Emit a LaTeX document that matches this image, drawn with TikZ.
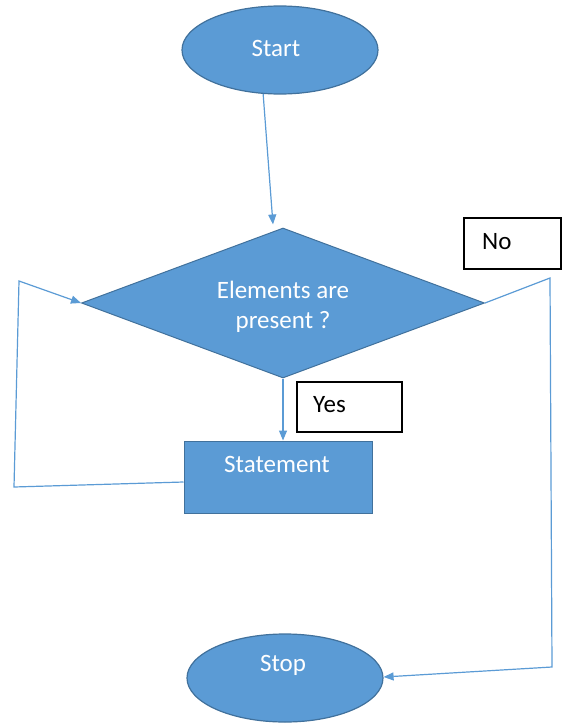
\documentclass[tikz,border=0pt]{standalone}
\usepackage{fontspec}
\setmainfont{Carlito}
\usetikzlibrary{shapes.geometric,arrows.meta,calc}
\definecolor{flowfill}{HTML}{5B9BD5}
\definecolor{flowedge}{HTML}{41719C}
\definecolor{flowline}{HTML}{5B9BD5}
\begin{document}
\begin{tikzpicture}[x=1pt,y=-1pt,
  terminal/.style={ellipse, draw=flowedge, fill=flowfill, line width=1.2pt,
    minimum width=196pt, minimum height=88pt, inner sep=0pt},
  decision/.style={diamond, draw=flowedge, fill=flowfill, line width=1pt,
    minimum width=403pt, minimum height=150pt, inner sep=0pt},
  process/.style={rectangle, draw=flowedge, fill=flowfill, line width=1pt,
    minimum width=188pt, minimum height=72pt, inner sep=0pt},
  inlabel/.style={text=white, font=\fontsize{25}{30}\selectfont, align=center, inner sep=0pt},
  tagbox/.style={rectangle, draw=black, fill=white, line width=1.1pt, inner sep=0pt},
  tagtext/.style={text=black, font=\fontsize{25}{30}\selectfont, anchor=base west, inner sep=0pt},
  flow/.style={draw=flowline, line width=1.2pt, -{Triangle[length=10pt,width=8pt]}},
]
\useasboundingbox (0,0) rectangle (562,723);

% shapes
\node[terminal] (start) at (280,50) {};
\node[inlabel] (starttext) at (276,48) {Start};

\node[decision] (dec) at (283,303) {};
\node[inlabel] (dectext) at (283,307) {Elements are\\present ?};

\node[process] (stmt) at (278,477) {};
\node[inlabel] (stmttext) at (277,464) {Statement};

\node[terminal] (stop) at (285,678) {};
\node[inlabel] (stoptext) at (283,665) {Stop};

% branch tags
\node[tagbox, minimum width=105pt, minimum height=50pt] (yesbox) at (349.5,407) {};
\node[tagtext] (yestext) at (313,412) {Yes};
\node[tagbox, minimum width=97pt, minimum height=51pt] (nobox) at (512.5,243.5) {};
\node[tagtext] (notext) at (482,249) {No};

% bends of the return and exit paths
\coordinate (loopbot) at (14,487);
\coordinate (looptop) at (19,281);
\coordinate (notop) at (550,278);
\coordinate (nobot) at (552,667);

% connectors
\draw[flow] (start.249) -- ([xshift=-10pt,yshift=3pt]dec.north);
\draw[flow] (dec.south) -- (dec.south |- stmt.north);
\draw[flow] ([yshift=-5pt]stmt.west) -- (loopbot) -- (looptop) -- (dec.west);
\draw[flow] (dec.east) -- (notop) -- (nobot) -- ([yshift=1pt]stop.east);
\end{tikzpicture}
\end{document}
